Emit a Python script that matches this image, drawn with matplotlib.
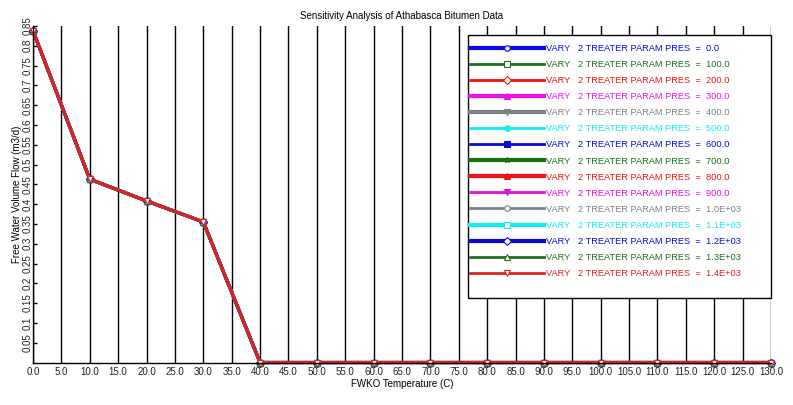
import matplotlib
matplotlib.use("Agg")
import matplotlib.pyplot as plt
from matplotlib.lines import Line2D
from matplotlib.patches import Rectangle
import numpy as np

plt.rcParams['font.family'] = ['Liberation Sans', 'DejaVu Sans']

temps = [0, 10, 20, 30, 40, 50, 60, 70, 80, 90, 100, 110, 120, 130]
flow = [0.838, 0.463, 0.408, 0.355, 0.0, 0.0, 0.0, 0.0, 0.0, 0.0, 0.0, 0.0, 0.0, 0.0]
pressures = ["0.0", "100.0", "200.0", "300.0", "400.0", "500.0", "600.0", "700.0",
             "800.0", "900.0", "1.0E+03", "1.1E+03", "1.2E+03", "1.3E+03", "1.4E+03"]

colors = ["#0a0aee", "#1f6e1f", "#ee1111", "#ee11ee", "#808080", "#11eeee", "#0a0ad0", "#137013",
          "#ee1111", "#dd11dd", "#808080", "#11eeee", "#0a0ad0", "#1f701f", "#dd2222"]
markers = ["o", "s", "D", "^", "v", "o", "s", "*", "^", "v", "o", "s", "D", "^", "v"]
fills = [False, False, False, True, True, True, True, True, True, True, False, False, False, False, False]
widths = [3, 2, 2, 3, 3, 2, 2, 3, 3, 2, 2, 3, 3, 2, 2]

fig = plt.figure(figsize=(7.93, 4.05), dpi=100)
ax = fig.add_axes([33/793, 1-362.5/405, (771-33)/793, (362.5-26)/405])

handles = []
for i, p in enumerate(pressures):
    mfc = colors[i] if fills[i] else "white"
    ax.plot(temps, flow, color=colors[i], lw=2.2, marker=markers[i],
            markersize=4, markerfacecolor=mfc, markeredgecolor=colors[i],
            markeredgewidth=0.8, clip_on=False)
    handles.append(Line2D([], [], color=colors[i], lw=widths[i], marker=markers[i],
                          markersize=4, markerfacecolor=mfc, markeredgecolor=colors[i],
                          markeredgewidth=0.8,
                          label=f"VARY   2 TREATER PARAM PRES  =  {p}"))

ax.set_xlim(0, 130)
ax.set_ylim(0, 0.85)
xt = np.arange(0, 131, 5)
ax.set_xticks(xt)
ax.set_xticklabels([f"{v:.1f}" for v in xt], fontsize=7)
yt = np.round(np.arange(0.05, 0.851, 0.05), 2)
ax.set_yticks(yt)
ax.set_yticklabels([f"{v:g}" for v in yt], fontsize=7, rotation=90, va='center')
ax.tick_params(axis='x', length=0, pad=3, colors='#222222')
ax.tick_params(axis='y', direction='in', length=3, width=1, pad=0, colors='#222222')
ax.tick_params(axis='y', color='black')
ax.grid(axis='x', color='black', lw=1)
ax.set_axisbelow(True)
for s in ['top', 'right']:
    ax.spines[s].set_visible(False)
ax.spines['left'].set_linewidth(1)
ax.spines['bottom'].set_linewidth(1)

ax.set_xlabel("FWKO Temperature (C)", fontsize=7, labelpad=2)
ax.set_ylabel("Free Water Volume Flow (m3/d)", fontsize=7, labelpad=1)
fig.text(402/793, 1-16/405, "Sensitivity Analysis of Athabasca Bitumen Data", ha='center', va='center', fontsize=7)

# legend frame
fig.patches.append(Rectangle((468/793, 1-298/405), (771-468)/793, (298-35)/405,
                             transform=fig.transFigure, facecolor='white',
                             edgecolor='black', lw=1, zorder=5))
leg = fig.legend(handles=handles, loc='upper left',
                 bbox_to_anchor=(470/793, 1-44/405),
                 fontsize=6.7, handlelength=8.0, handletextpad=0.2,
                 labelspacing=0.76, borderpad=0, borderaxespad=0, frameon=False)
leg.set_zorder(6)
for t, c in zip(leg.get_texts(), colors):
    t.set_color(c)

fig.savefig("out.png", dpi=100)
